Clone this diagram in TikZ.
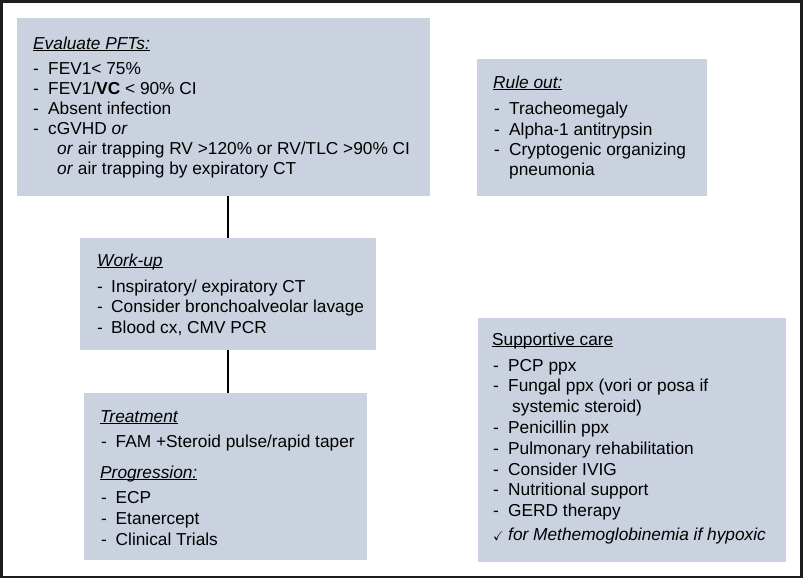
\documentclass[tikz,border=0pt]{standalone}
\usepackage{amssymb}
\usepackage{fontspec}
\setmainfont{Liberation Sans}
\definecolor{boxfill}{RGB}{202,210,223}
\definecolor{framecol}{RGB}{30,30,30}
\newcommand\ulx[1]{\setbox0\hbox{#1}\rlap{\rule[-2.3pt]{\wd0}{0.9pt}}\box0}
\newcommand\chk{{\fontsize{13}{13}\selectfont$\checkmark$}}
\tikzset{
  box/.style={fill=boxfill, draw=none, inner sep=0pt, anchor=north west},
  txt/.style={anchor=base west, inner sep=0pt, font=\fontsize{17.3}{20.6}\selectfont},
  conn/.style={draw=black, line width=2pt},
  frame/.style={draw=framecol, line width=2.6pt}
}
\begin{document}
\begin{tikzpicture}[x=1pt,y=-1pt]
\useasboundingbox (0,0) rectangle (807,579);
\draw[frame] (1.5,1.5) rectangle (801.5,577);

% boxes
\node[box, minimum width=413pt, minimum height=178pt] (pft) at (17,18) {};
\node[box, minimum width=230pt, minimum height=137pt] (ro) at (477,59) {};
\node[box, minimum width=296pt, minimum height=112pt] (wu) at (80,238) {};
\node[box, minimum width=283pt, minimum height=167pt] (tr) at (84,393) {};
\node[box, minimum width=308pt, minimum height=244pt] (sc) at (478,318) {};

% connectors
\draw[conn] (wu.north |- pft.south) -- (wu.north);
\draw[conn] (wu.south) -- (wu.south |- tr.north);

% Evaluate PFTs
\node[txt] (pft0) at (33,49) {\ulx{\itshape Evaluate PFTs:}};
\node[txt] (pft1d) at (33,74) {-};
\node[txt] (pft1) at (48,74) {FEV1< 75\%};
\node[txt] (pft2d) at (33,94) {-};
\node[txt] (pft2) at (48,94) {FEV1/\textbf{VC} < 90\% CI};
\node[txt] (pft3d) at (33,114) {-};
\node[txt] (pft3) at (48,114) {Absent infection};
\node[txt] (pft4d) at (33,134) {-};
\node[txt] (pft4) at (48,134) {cGVHD \textit{or}};
\node[txt] (pft5) at (57,154) {\textit{or} air trapping RV >120\% or RV/TLC >90\% CI};
\node[txt] (pft6) at (57,174) {\textit{or} air trapping by expiratory CT};

% Rule out
\node[txt] (ro0) at (493,88) {\ulx{\itshape Rule out:}};
\node[txt] (ro1d) at (494,114) {-};
\node[txt] (ro1) at (509,114) {Tracheomegaly};
\node[txt] (ro2d) at (494,135) {-};
\node[txt] (ro2) at (509,135) {Alpha-1 antitrypsin};
\node[txt] (ro3d) at (494,155) {-};
\node[txt] (ro3) at (509,155) {Cryptogenic organizing};
\node[txt] (ro4) at (509,175) {pneumonia};

% Work-up
\node[txt] (wu0) at (97,266) {\ulx{\itshape Work-up}};
\node[txt] (wu1d) at (97,292) {-};
\node[txt] (wu1) at (111,292) {Inspiratory/ expiratory CT};
\node[txt] (wu2d) at (97,312.5) {-};
\node[txt] (wu2) at (111,312.5) {Consider bronchoalveolar lavage};
\node[txt] (wu3d) at (97,333) {-};
\node[txt] (wu3) at (111,333) {Blood cx, CMV PCR};

% Treatment
\node[txt] (tr0) at (100,422) {\ulx{\itshape Treatment}};
\node[txt] (tr1d) at (101,447) {-};
\node[txt] (tr1) at (115.5,447) {FAM +Steroid pulse/rapid taper};
\node[txt] (tr2) at (100,478) {\ulx{\itshape Progression:}};
\node[txt] (tr3d) at (101,503) {-};
\node[txt] (tr3) at (115.5,503) {ECP};
\node[txt] (tr4d) at (101,524) {-};
\node[txt] (tr4) at (115.5,524) {Etanercept};
\node[txt] (tr5d) at (101,545) {-};
\node[txt] (tr5) at (115.5,545) {Clinical Trials};

% Supportive care
\node[txt] (sc0) at (492,345) {\ulx{Supportive care}};
\node[txt] (sc1d) at (493,371) {-};
\node[txt] (sc1) at (508,371) {PCP ppx};
\node[txt] (sc2d) at (493,391.8) {-};
\node[txt] (sc2) at (508,391.8) {Fungal ppx (vori or posa if};
\node[txt] (sc3) at (512,412.6) {systemic steroid)};
\node[txt] (sc4d) at (493,433.4) {-};
\node[txt] (sc4) at (508,433.4) {Penicillin ppx};
\node[txt] (sc5d) at (493,454.2) {-};
\node[txt] (sc5) at (508,454.2) {Pulmonary rehabilitation};
\node[txt] (sc6d) at (493,475) {-};
\node[txt] (sc6) at (508,475) {Consider IVIG};
\node[txt] (sc7d) at (493,495.8) {-};
\node[txt] (sc7) at (508,495.8) {Nutritional support};
\node[txt] (sc8d) at (493,516.6) {-};
\node[txt] (sc8) at (508,516.6) {GERD therapy};
\node[txt] (sc9c) at (493,540) {\chk};
\node[txt] (sc9) at (508,540) {\textit{for Methemoglobinemia if hypoxic}};
\end{tikzpicture}
\end{document}
